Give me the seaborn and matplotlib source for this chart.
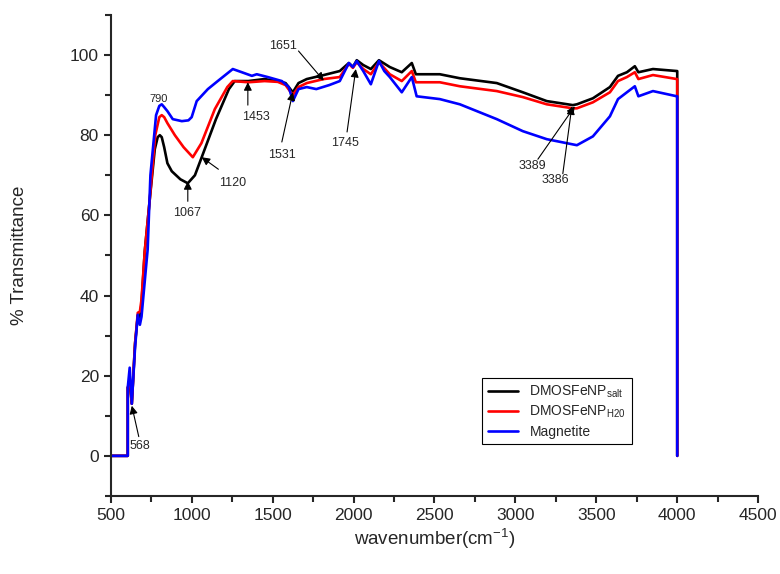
import pandas as pd
import matplotlib
matplotlib.use("Agg")
import matplotlib.pyplot as plt
from matplotlib.ticker import MultipleLocator
import seaborn as sns

# FTIR spectra
salt_x = [500, 605, 605, 618, 630, 650, 667, 680, 690, 710, 741, 772, 790, 803, 815, 830, 850,
          877, 930, 976, 1020, 1062, 1150, 1230, 1266, 1350, 1450, 1532, 1580, 1625, 1660,
          1711, 1816, 1915, 1971, 1996, 2020, 2060, 2107, 2157, 2224, 2298, 2360, 2385, 2533,
          2657, 2885, 3046, 3194, 3355, 3380, 3479, 3584, 3634, 3689, 3738, 3760, 3850, 3998,
          4000, 4000]
salt_y = [0, 0, 17, 18, 13, 28, 35, 34, 38, 51, 64, 76.5, 79.5, 80, 79.5, 77, 73,
          71, 69, 68, 70, 74.5, 84, 91.5, 93.5, 93.5, 94, 93.5, 93, 90.7, 93,
          94, 95, 96, 98, 97, 98.7, 97.5, 96.5, 98.7, 97, 95.7, 98, 95.2, 95.2,
          94.2, 93, 90.7, 88.5, 87.5, 87.7, 89.2, 92, 94.8, 95.7, 97.2, 95.7, 96.5, 96,
          96, 0]

h2o_x = [500, 605, 605, 618, 630, 650, 667, 680, 690, 710, 741, 775, 800, 815, 830, 850, 896,
         950, 1007, 1060, 1143, 1220, 1254, 1350, 1450, 1532, 1580, 1625, 1660, 1711, 1816,
         1915, 1971, 1996, 2020, 2060, 2107, 2157, 2224, 2298, 2360, 2385, 2533, 2657, 2885,
         3046, 3194, 3355, 3380, 3479, 3584, 3634, 3689, 3738, 3760, 3850, 3998, 4000, 4000]
h2o_y = [0, 0, 17, 19, 13, 28, 35.7, 36, 39, 51, 64, 80, 84.5, 85, 84.5, 83, 80,
         77, 74.5, 78, 86.5, 92, 93.5, 93.2, 93.5, 93.3, 92.5, 90, 92, 93, 94,
         94.5, 97.8, 96.8, 98.2, 96.5, 95.2, 98.2, 95.2, 93.5, 96, 93.2, 93.2, 92.2, 91,
         89.5, 87.7, 86.7, 86.7, 88.2, 90.7, 93.5, 94.5, 95.7, 94, 95, 94, 94, 0]

mag_x = [500, 605, 605, 617, 630, 650, 667, 680, 690, 728, 745, 780, 800, 815, 830, 850, 883,
         939, 980, 1000, 1031, 1100, 1161, 1254, 1310, 1372, 1402, 1470, 1557, 1600, 1625,
         1660, 1711, 1770, 1850, 1915, 1971, 1996, 2020, 2060, 2107, 2157, 2190, 2224, 2298,
         2360, 2390, 2533, 2657, 2885, 3046, 3194, 3355, 3380, 3479, 3584, 3634, 3689, 3738,
         3760, 3850, 3998, 4000, 4000]
mag_y = [0, 0, 17, 22, 13, 27, 35.2, 32.7, 34.7, 51.5, 70, 85, 87.3, 87.7, 87, 86, 84,
         83.5, 83.7, 84.5, 88.5, 91.5, 93.5, 96.5, 95.7, 94.8, 95.2, 94.5, 93.5, 92, 88.5,
         91.5, 92, 91.5, 92.5, 93.5, 98, 97, 98.5, 96, 92.7, 98.5, 96, 94.5, 90.7,
         94.5, 89.7, 89, 87.7, 84, 81, 79, 77.7, 77.5, 79.7, 84.7, 89, 90.7, 92.2,
         89.7, 91, 89.7, 89.7, 0]

series_names = ["DMOSFeNP$_{salt}$", "DMOSFeNP$_{H20}$", "Magnetite"]
series_colors = ["black", "red", "blue"]

# peak labels: text, text position, arrow tail, arrow head (None = no arrow)
peak_labels = ["790", "1067", "1120", "1453", "1531", "1651", "1745", "3389", "3386", "568"]
peak_text_xy = [(797, 89), (970, 60.5), (1250, 68), (1396, 84.5), (1557, 75), (1563, 102.2),
                (1946, 78), (3108, 72.2), (3250, 68.7), (680, 2.5)]
peak_tail_xy = [None, (976, 63.5), (1165, 71.5), (1347, 87.5), (1557, 78.3), (1660, 101),
                (1960, 80.8), (3139, 74), (3293, 70.4), (673, 4.8)]
peak_head_xy = [None, (976, 68.5), (1062, 74.5), (1347, 93.2), (1625, 90.7), (1816, 93.6),
                (2014, 96.5), (3367, 87.2), (3349, 87.2), (630, 12.5)]

sns.set_style("ticks")
plt.rcParams["font.family"] = ["Liberation Sans", "DejaVu Sans"]
plt.rcParams["mathtext.default"] = "regular"

fig = plt.figure(figsize=(7.8, 5.74), dpi=100)
ax = fig.add_axes([0.142, 0.136, 0.83, 0.838])

for xs, ys, name, col in zip([salt_x, h2o_x, mag_x], [salt_y, h2o_y, mag_y],
                             series_names, series_colors):
    df = pd.DataFrame({"x": xs, "y": ys})
    sns.lineplot(data=df, x="x", y="y", ax=ax, color=col, lw=1.9,
                 estimator=None, sort=False, label=name)

for lab, txy, tail, head in zip(peak_labels, peak_text_xy, peak_tail_xy, peak_head_xy):
    fs = 8 if lab == "790" else 9
    ax.text(txy[0], txy[1], lab, fontsize=fs, ha="center", va="center")
    if tail is not None:
        ax.annotate("", xy=head, xytext=tail,
                    arrowprops=dict(arrowstyle="-|>", color="black", lw=0.8,
                                    mutation_scale=12, shrinkA=0, shrinkB=0))

ax.set_xlim(500, 4500)
ax.set_ylim(-10, 110)
ax.xaxis.set_major_locator(MultipleLocator(500))
ax.xaxis.set_minor_locator(MultipleLocator(250))
ax.set_yticks([0, 20, 40, 60, 80, 100])
ax.yaxis.set_minor_locator(MultipleLocator(10))
ax.tick_params(which="major", length=5, width=1.5, labelsize=12.5)
ax.tick_params(which="minor", length=4, width=1.5)
for s in ["left", "bottom"]:
    ax.spines[s].set_linewidth(1.5)
sns.despine(ax=ax)

ax.set_xlabel("wavenumber(cm$^{-1}$)", fontsize=13.5, labelpad=3)
ax.set_ylabel("% Transmittance", fontsize=13.5, labelpad=30)

leg = ax.legend(loc="upper left", bbox_to_anchor=(0.563, 0.26), fontsize=10,
                frameon=True, fancybox=False, framealpha=1, edgecolor="black",
                handlelength=2.2, borderpad=0.4, labelspacing=0.3)
leg.get_frame().set_linewidth(0.8)

fig.savefig("out.png", dpi=100)
